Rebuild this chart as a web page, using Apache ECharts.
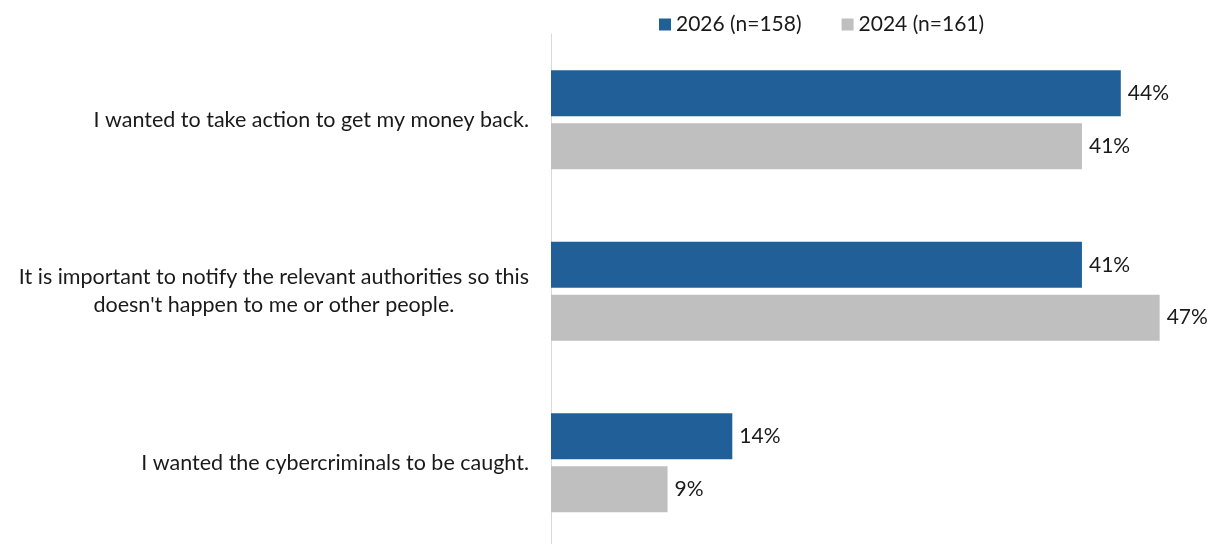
<!DOCTYPE html>
<html>
<head>
<meta charset="utf-8">
<script src="https://cdn.jsdelivr.net/npm/echarts@6/dist/echarts.min.js"></script>
<style>
  html, body { margin: 0; padding: 0; background: #fff; }
  #chart { width: 1212px; height: 544px; }
</style>
</head>
<body>
<div id="chart"></div>
<script>
// Reasons for reporting, two survey waves
const categories = [
  'I wanted to take action to get my money back.',
  "It is important to notify the relevant authorities so this\ndoesn't happen to me or other people.",
  'I wanted the cybercriminals to be caught.'
];
const seriesNames = ['2026 (n=158)', '2024 (n=161)'];
const values2026 = [44, 41, 14];
const values2024 = [41, 47, 9];

const FONT = 'Lato, "Open Sans", sans-serif';
const TEXT = '#1a1a1a';

const chart = echarts.init(document.getElementById('chart'), null, { renderer: 'canvas' });

const valueLabel = {
  show: true,
  position: 'right',
  distance: 7,
  formatter: p => p.value + '%',
  color: TEXT,
  fontFamily: FONT,
  fontSize: 21
};

chart.setOption({
  animation: false,
  textStyle: { fontFamily: FONT },
  legend: {
    data: seriesNames,
    left: 659,
    top: 14,
    padding: 0,
    itemWidth: 12,
    itemHeight: 12,
    itemGap: 40,
    icon: 'rect',
    textStyle: { color: TEXT, fontSize: 21, fontFamily: FONT }
  },
  grid: {
    left: 551,
    top: 34,
    width: 647.5,
    height: 514.5,
    containLabel: false,
    outerBoundsMode: 'none'
  },
  xAxis: {
    type: 'value',
    min: 0,
    max: 50,
    show: false
  },
  yAxis: {
    type: 'category',
    data: categories,
    inverse: true,
    axisLine: { show: true, lineStyle: { color: '#d9d9d9', width: 1 } },
    axisTick: { show: false },
    axisLabel: {
      margin: 22,
      align: 'right',
      color: TEXT,
      fontSize: 21.5,
      fontFamily: FONT,
      lineHeight: 28,
      formatter: v => v.split('\n').map(s => '{c|' + s + '}').join('\n'),
      rich: {
        c: { align: 'center', color: TEXT, fontSize: 21.5, fontFamily: FONT, lineHeight: 28 }
      }
    }
  },
  series: [
    {
      name: seriesNames[0],
      type: 'bar',
      data: values2026,
      barWidth: 46,
      barGap: '15%',
      itemStyle: { color: '#215f99' },
      label: valueLabel
    },
    {
      name: seriesNames[1],
      type: 'bar',
      data: values2024,
      barWidth: 46,
      itemStyle: { color: '#bfbfbf' },
      label: valueLabel
    }
  ]
});
</script>
</body>
</html>
